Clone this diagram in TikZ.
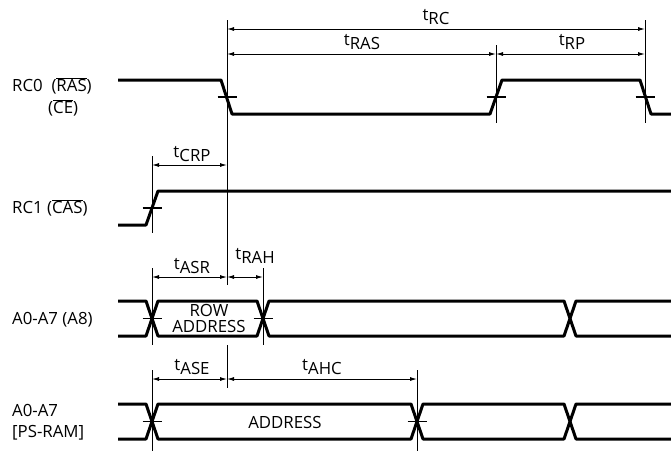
\documentclass[tikz,border=0pt]{standalone}
\usepackage{fontspec}
\setmainfont{Open Sans}
\usetikzlibrary{arrows.meta}

\tikzset{
  sig/.style={line width=3pt, line join=round},
  guide/.style={line width=0.9pt},
  tick/.style={line width=1.2pt},
  dim/.style={line width=0.9pt, {Latex[length=7pt,width=4pt]}-{Latex[length=7pt,width=4pt]}},
  lbl/.style={font=\fontsize{16.8}{18}\selectfont, inner sep=0pt},
}
\newcommand{\tsub}[1]{t\raisebox{-4.5pt}{#1}}
\newcommand{\ovl}[1]{$\overline{\mbox{#1}}$}

\begin{document}
\begin{tikzpicture}[x=1pt,y=-1pt]
    \useasboundingbox (0,0) rectangle (671,451);

    % signal names
    \node[lbl,anchor=west] (rc0) at (12,86) {RC0~~(\ovl{RAS})};
    \node[lbl,anchor=west] (ce) at (48,108) {(\ovl{CE})};
    \node[lbl,anchor=west] (rc1) at (12,208) {RC1 (\ovl{CAS})};
    \node[lbl,anchor=west] (a8) at (12,320) {A0-A7 (A8)};
    \node[lbl,anchor=west] (ps1) at (12,410) {A0-A7};
    \node[lbl,anchor=west] (ps2) at (12,433) {[PS-RAM]};

    % RC0 and RC1
    \draw[sig] (118,80) -- (221,80) -- (232,114) -- (490,114) -- (502,80)
        -- (640,80) -- (651,114) -- (671,114);
    \draw[sig] (118,225) -- (146,225) -- (158,191) -- (671,191);

    % address buses
    \begin{scope}
        \clip (118,0) rectangle (671,451);
        \foreach \a/\b in {100/152,152/263,263/570,570/700}
            \draw[sig] (\a,318.5) -- (\a+6,301) -- (\b-6,301) -- (\b,318.5)
                -- (\b-6,336) -- (\a+6,336) -- cycle;
        \foreach \a/\b in {100/152,152/417,417/570,570/700}
            \draw[sig] (\a,421.5) -- (\a+6,404) -- (\b-6,404) -- (\b,421.5)
                -- (\b-6,439) -- (\a+6,439) -- cycle;
    \end{scope}
    \node[lbl] (row) at (209,310) {ROW};
    \node[lbl] (rowaddr) at (209,326.5) {ADDRESS};
    \node[lbl] (addr) at (285,422) {ADDRESS};

    % crossing ticks
    \foreach \x/\y in {227/97,496/97,645/97,152/208,152/318.5,263/318.5,152/421.5,417/421.5}
        \draw[tick] (\x-9.5,\y) -- (\x+9.5,\y);

    % reference lines
    \draw[guide] (227,20) -- (227,285);
    \draw[guide] (227,345) -- (227,388);
    \draw[guide] (496,45) -- (496,123);
    \draw[guide] (645,20) -- (645,123);
    \draw[guide] (152,156) -- (152,233);
    \draw[guide] (152,268) -- (152,345);
    \draw[guide] (152,370) -- (152,451);
    \draw[guide] (263,268) -- (263,345);
    \draw[guide] (417,370) -- (417,451);

    % timings
    \draw[dim] (227,29) -- (645,29);
    \draw[dim] (227,54) -- (496,54);
    \draw[dim] (496,54) -- (645,54);
    \draw[dim] (152,165) -- (227,165);
    \draw[dim] (152,277) -- (227,277);
    \draw[dim] (227,277) -- (263,277);
    \draw[dim] (152,379) -- (227,379);
    \draw[dim] (227,379) -- (417,379);

    \node[lbl] (trc) at (436,17) {\tsub{RC}};
    \node[lbl] (tras) at (362,42) {\tsub{RAS}};
    \node[lbl] (trp) at (572,42) {\tsub{RP}};
    \node[lbl] (tcrp) at (192,154) {\tsub{CRP}};
    \node[lbl] (tasr) at (192,266) {\tsub{ASR}};
    \node[lbl] (trah) at (255,256) {\tsub{RAH}};
    \node[lbl] (tase) at (192,367) {\tsub{ASE}};
    \node[lbl] (tahc) at (322,367) {\tsub{AHC}};
\end{tikzpicture}
\end{document}
